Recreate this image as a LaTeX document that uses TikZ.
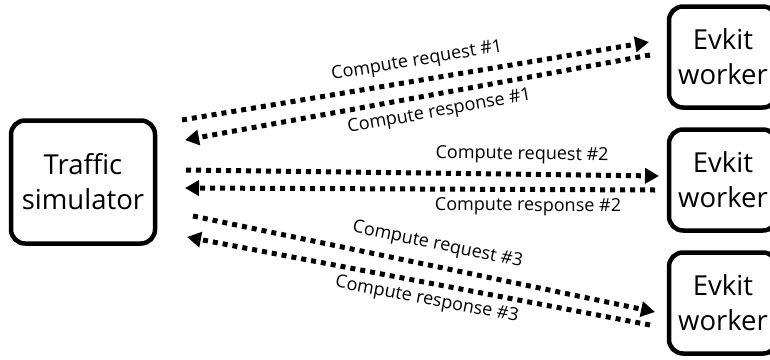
\documentclass[tikz,border=0pt]{standalone}
\usepackage{fontspec}
\setmainfont{Open Sans}
\usetikzlibrary{arrows.meta}
\tikzset{
  box/.style={draw, line width=4.5pt, rounded corners=14pt, align=center, font=\fontsize{27.5}{35}\selectfont, inner sep=0pt},
  msg/.style={line width=5pt, dash pattern=on 5pt off 5pt, -{Triangle[length=14pt,width=15pt]}},
  lbl/.style={sloped, font=\fontsize{18}{20}\selectfont, inner sep=0pt}
}
\begin{document}
\begin{tikzpicture}[x=1pt,y=-1pt]
\useasboundingbox (0,0) rectangle (770,359);
\clip (0,0) rectangle (770,359);
\node[box, minimum width=144pt, minimum height=123pt] (sim) at (83,182) {Traffic\\simulator};
\node[box, minimum width=108pt, minimum height=101pt] (w1) at (723,57) {Evkit\\worker};
\node[box, minimum width=108pt, minimum height=101pt] (w2) at (723,180) {Evkit\\worker};
\node[box, minimum width=108pt, minimum height=101pt] (w3) at (723,303) {Evkit\\worker};
% connector end points
\coordinate (a1) at (182,120);  \coordinate (b1) at (649,42);
\coordinate (c1) at (650,55);   \coordinate (d1) at (185,140);
\coordinate (a2) at (186,170);  \coordinate (b2) at (659,176);
\coordinate (c2) at (655,190);  \coordinate (d2) at (185,188);
\coordinate (a3) at (193,216);  \coordinate (b3) at (655,312);
\coordinate (c3) at (650,325);  \coordinate (d3) at (187,237);
\draw[msg] (a1) -- node[lbl, pos=0.51, above=8pt] {Compute request \#1} (b1);
\draw[msg] (c1) -- node[lbl, pos=0.46, below=7pt] {Compute response \#1} (d1);
\draw[msg] (a2) -- node[lbl, pos=0.71, above=8pt] {Compute request \#2} (b2);
\draw[msg] (c2) -- node[lbl, pos=0.27, below=6pt] {Compute response \#2} (d2);
\draw[msg] (a3) -- node[lbl, pos=0.52, above=10pt] {Compute request \#3} (b3);
\draw[msg] (c3) -- node[lbl, pos=0.475, below=6pt] {Compute response \#3} (d3);
\end{tikzpicture}
\end{document}
